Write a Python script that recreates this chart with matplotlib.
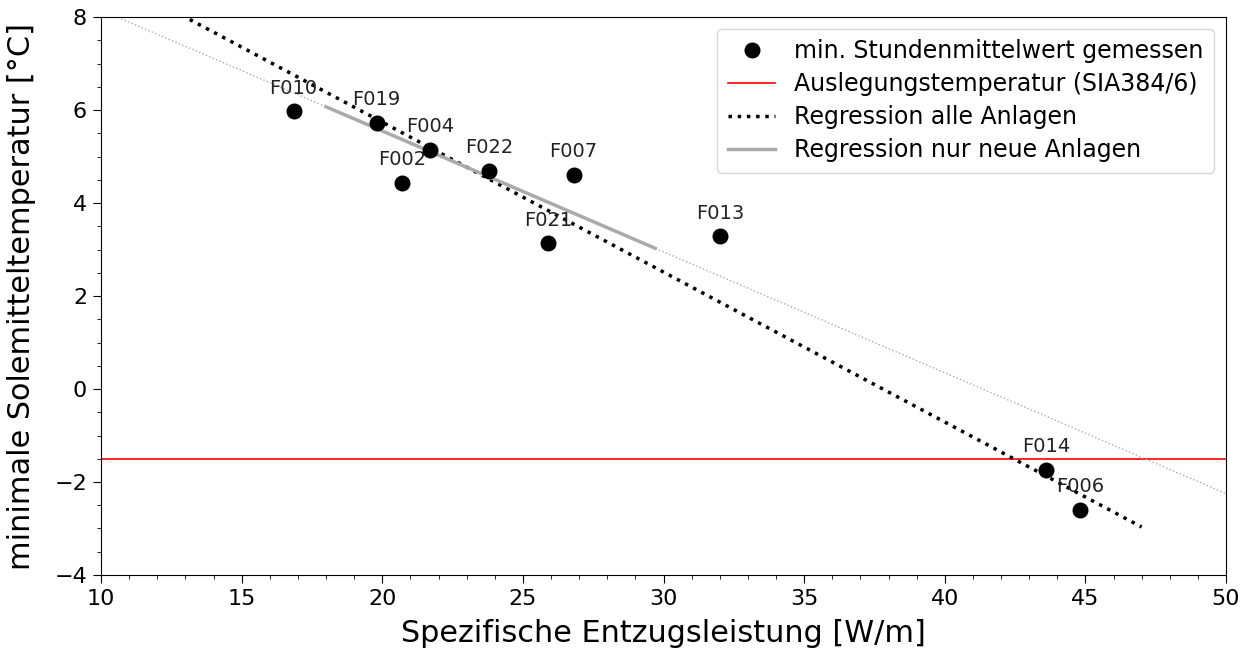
import numpy as np
import matplotlib
matplotlib.use("Agg")
import matplotlib.pyplot as plt
from matplotlib.ticker import MultipleLocator

# Measured plants: specific extraction power [W/m] and min. hourly mean brine temperature [°C]
plants = ["F010", "F019", "F004", "F002", "F022", "F007", "F021", "F013", "F014", "F006"]
power = [16.85, 19.8, 21.7, 20.7, 23.8, 26.8, 25.9, 32.0, 43.6, 44.8]
t_min = [5.97, 5.73, 5.15, 4.43, 4.69, 4.60, 3.13, 3.28, -1.74, -2.60]

# Design temperature SIA 384/6
t_design = -1.5

# Regression lines (intercept, slope) and their plotted ranges
reg_all = (12.19, -0.3225)
reg_all_range = [12.0, 47.0]
reg_new = (10.75, -0.260)
reg_new_range = [18.0, 29.7]
reg_new_ext_range = [10.0, 50.0]

fig = plt.figure(figsize=(12.5, 6.5), dpi=100)
ax = fig.add_axes([0.0808, 0.1154, 0.9, 0.8584])

ax.plot(power, t_min, "o", color="black", markersize=10.5,
        label="min. Stundenmittelwert gemessen", zorder=4)
ax.axhline(t_design, color="red", linewidth=1.2,
           label="Auslegungstemperatur (SIA384/6)")

xa = np.array(reg_all_range)
ax.plot(xa, reg_all[0] + reg_all[1] * xa, ":", color="black", linewidth=2.5,
        label="Regression alle Anlagen")

xe = np.array(reg_new_ext_range)
ax.plot(xe, reg_new[0] + reg_new[1] * xe, ":", color="#aaaaaa", linewidth=1.0)
xn = np.array(reg_new_range)
ax.plot(xn, reg_new[0] + reg_new[1] * xn, "-", color="#aaaaaa", linewidth=2.5,
        label="Regression nur neue Anlagen")

for name, x, y in zip(plants, power, t_min):
    ax.annotate(name, (x, y), xytext=(0, 10), textcoords="offset points",
                ha="center", va="bottom", fontsize=14, color="#222222")

ax.set_xlim(10, 50)
ax.set_ylim(-4, 8)
ax.xaxis.set_major_locator(MultipleLocator(5))
ax.xaxis.set_minor_locator(MultipleLocator(1))
ax.yaxis.set_major_locator(MultipleLocator(2))
ax.yaxis.set_minor_locator(MultipleLocator(0.5))
ax.tick_params(axis="both", which="major", labelsize=16, length=5.5, pad=4.5)
ax.tick_params(axis="both", which="minor", length=3)

ax.set_xlabel("Spezifische Entzugsleistung [W/m]", fontsize=21.8, labelpad=7)
ax.set_ylabel("minimale Solemitteltemperatur [°C]", fontsize=21.8, labelpad=13)

ax.legend(loc="upper right", fontsize=17, labelspacing=0.38, borderpad=0.45)

fig.savefig("out.png", dpi=100)
